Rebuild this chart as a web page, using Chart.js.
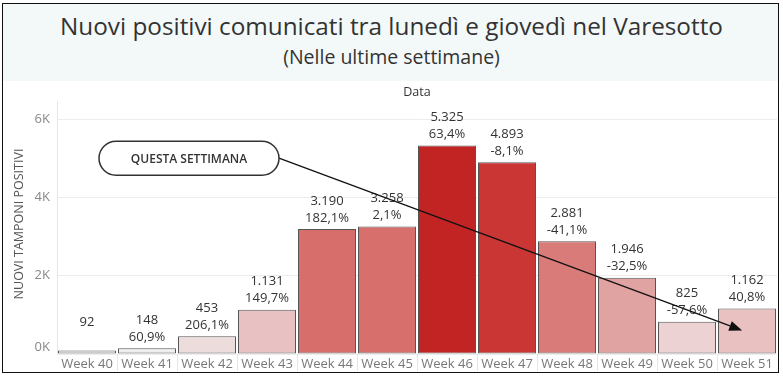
<!DOCTYPE html>
<html>
<head>
<meta charset="utf-8">
<script src="https://cdn.jsdelivr.net/npm/chart.js@4.4.1/dist/chart.umd.min.js"></script>
<style>
  html,body{margin:0;padding:0;background:#fff;}
  #wrap{position:relative;width:783px;height:380px;overflow:hidden;}
  #frame{position:absolute;left:2px;top:3px;width:775px;height:368px;border:1.5px solid #111;box-sizing:content-box;}
  #band{position:absolute;left:3px;top:4px;width:775px;height:77px;background:#f3f9f9;}
  #title{position:absolute;left:0;width:783px;top:11px;text-align:center;font-family:"Open Sans",sans-serif;font-size:24.3px;color:#333;line-height:30px;}
  #subtitle{position:absolute;left:0;width:783px;top:44px;text-align:center;font-family:"Open Sans",sans-serif;font-size:19.5px;color:#333;line-height:26px;}
  canvas{position:absolute;left:0;top:0;}
</style>
</head>
<body>
<div id="wrap">
  <div id="band"></div>
  <div id="title">Nuovi positivi comunicati tra lunedì e giovedì nel Varesotto</div>
  <div id="subtitle">(Nelle ultime settimane)</div>
  <canvas id="c" width="783" height="380"></canvas>
  <div id="frame"></div>
</div>
<script>
const categories = ["Week 40","Week 41","Week 42","Week 43","Week 44","Week 45","Week 46","Week 47","Week 48","Week 49","Week 50","Week 51"];
const positivi = [92,148,453,1131,3190,3258,5325,4893,2881,1946,825,1162];
const variazione = ["","60,9%","206,1%","149,7%","182,1%","2,1%","63,4%","-8,1%","-41,1%","-32,5%","-57,6%","40,8%"];
const valueLabels = ["92","148","453","1.131","3.190","3.258","5.325","4.893","2.881","1.946","825","1.162"];
const yTickValues = [0,2000,4000,6000];
const yTickLabels = ["0K","2K","4K","6K"];
const barColors = ["#f0f0f0","#eeeeee","#eddcdc","#e8c1c2","#d76e6c","#d7706d","#c22423","#c93634","#d97c79","#e0a3a2","#edd2d3","#e9c1c1"];
const annotationText = "QUESTA SETTIMANA";
// annotation anchor in data space (category index, value)
const pillAnchor = {index:1.7, value:5000};
const arrowEnd = {index:10.92, value:600};

const FONT = '"Open Sans", sans-serif';

const overlay = {
  id:'overlay',
  afterDatasetsDraw(chart){
    const ctx = chart.ctx, xs = chart.scales.x, ys = chart.scales.y;
    const meta = chart.getDatasetMeta(0);
    ctx.save();
    // value labels
    ctx.fillStyle = '#333';
    ctx.font = '13px ' + FONT;
    ctx.textAlign = 'center';
    ctx.textBaseline = 'middle';
    meta.data.forEach((bar,i)=>{
      ctx.fillText(valueLabels[i], bar.x, bar.y - 28);
      if (variazione[i]) ctx.fillText(variazione[i], bar.x, bar.y - 11);
    });
    // y tick labels
    ctx.fillStyle = '#888';
    ctx.font = '13px ' + FONT;
    ctx.textAlign = 'right';
    yTickValues.forEach((v,i)=>{
      let y = ys.getPixelForValue(v);
      if (v === 0) y -= 7;
      ctx.fillText(yTickLabels[i], 50, y);
    });
    // y axis title
    ctx.save();
    ctx.translate(19, 224);
    ctx.rotate(-Math.PI/2);
    ctx.fillStyle = '#555';
    ctx.font = '12.5px ' + FONT;
    ctx.textAlign = 'center';
    ctx.fillText('NUOVI TAMPONI POSITIVI', 0, 0);
    ctx.restore();
    // "Data" header
    ctx.fillStyle = '#333';
    ctx.font = '12.5px ' + FONT;
    ctx.textAlign = 'center';
    ctx.fillText('Data', (chart.chartArea.left + chart.chartArea.right)/2, 92);
    // x separators
    ctx.strokeStyle = '#e6e6e6';
    ctx.lineWidth = 1;
    for (let i=1;i<categories.length;i++){
      const x = Math.round(xs.getPixelForValue(i-0.5)) + 0.5;
      ctx.beginPath(); ctx.moveTo(x, chart.chartArea.bottom); ctx.lineTo(x, 371); ctx.stroke();
    }
    // annotation pill
    const cx = xs.getPixelForValue(pillAnchor.index), cy = ys.getPixelForValue(pillAnchor.value);
    const hw = 90, hh = 17;
    const ex = xs.getPixelForValue(arrowEnd.index), ey = ys.getPixelForValue(arrowEnd.value);
    const sx = cx + hw, sy = cy;
    // arrow line
    ctx.strokeStyle = '#111';
    ctx.lineWidth = 1.3;
    const ang = Math.atan2(ey - sy, ex - sx);
    const hl = 13, hwid = 5;
    const bx = ex - hl*Math.cos(ang), by = ey - hl*Math.sin(ang);
    ctx.beginPath(); ctx.moveTo(sx, sy); ctx.lineTo(bx, by); ctx.stroke();
    ctx.fillStyle = '#111';
    ctx.beginPath();
    ctx.moveTo(ex, ey);
    ctx.lineTo(bx + hwid*Math.sin(ang), by - hwid*Math.cos(ang));
    ctx.lineTo(bx - hwid*Math.sin(ang), by + hwid*Math.cos(ang));
    ctx.closePath(); ctx.fill();
    // pill
    ctx.fillStyle = '#fff';
    ctx.strokeStyle = '#333';
    ctx.lineWidth = 1.5;
    ctx.beginPath();
    ctx.moveTo(cx - hw + hh, cy - hh);
    ctx.lineTo(cx + hw - hh, cy - hh);
    ctx.arc(cx + hw - hh, cy, hh, -Math.PI/2, Math.PI/2);
    ctx.lineTo(cx - hw + hh, cy + hh);
    ctx.arc(cx - hw + hh, cy, hh, Math.PI/2, Math.PI*1.5);
    ctx.closePath();
    ctx.fill(); ctx.stroke();
    ctx.fillStyle = '#333';
    ctx.font = '600 12px ' + FONT;
    ctx.textAlign = 'center';
    ctx.fillText(annotationText, cx, cy + 1);
    ctx.restore();
  }
};

new Chart(document.getElementById('c'), {
  type:'bar',
  data:{
    labels:categories,
    datasets:[{
      data:positivi,
      backgroundColor:barColors,
      borderColor:'#555',
      borderWidth:1,
      borderSkipped:false,
      barPercentage:0.967,
      categoryPercentage:1
    }]
  },
  options:{
    responsive:false,
    animation:false,
    events:[],
    layout:{padding:{left:57,right:6,top:101,bottom:0}},
    plugins:{legend:{display:false},tooltip:{enabled:false},title:{display:false}},
    scales:{
      x:{
        grid:{display:false,drawTicks:false},
        border:{display:false},
        ticks:{font:{family:'Open Sans',size:13},color:'#777',padding:2,maxRotation:0,autoSkip:false},
        afterFit(s){ s.height = 26; }
      },
      y:{
        min:0,max:6460,
        grid:{color:'#ececec',drawTicks:false},
        border:{display:true,color:'#e6e6e6'},
        ticks:{display:false},
        afterBuildTicks(s){ s.ticks = yTickValues.map(v=>({value:v})); },
        afterFit(s){ s.width = 0; }
      }
    }
  },
  plugins:[overlay]
});
</script>
</body>
</html>
